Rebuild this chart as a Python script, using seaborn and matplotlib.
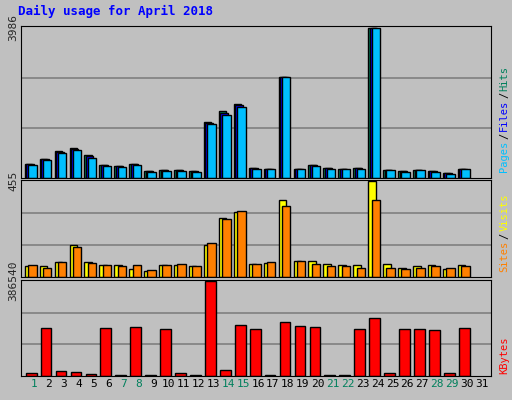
import numpy as np
import seaborn as sns
import matplotlib.pyplot as plt

days = list(range(1, 32))
weekend = [1, 7, 8, 14, 15, 21, 22, 28, 29]
hits = [380, 515, 705, 786, 597, 352, 325, 380, 190, 217, 217, 190, 1491, 1762, 1952,
        271, 244, 2684, 244, 352, 271, 244, 271, 3986, 217, 190, 217, 190, 136, 244, 0]
files = [365, 500, 690, 770, 580, 340, 310, 365, 180, 205, 205, 180, 1460, 1730, 1925,
         260, 235, 2680, 235, 340, 260, 235, 260, 3980, 210, 180, 210, 180, 125, 235, 0]
pages = [350, 470, 650, 730, 540, 320, 290, 350, 170, 190, 190, 170, 1420, 1680, 1870,
         240, 230, 2680, 230, 320, 240, 230, 240, 3980, 200, 170, 200, 170, 115, 230, 0]
visits = [50, 50, 70, 150, 70, 55, 55, 40, 30, 55, 55, 50, 150, 280, 310,
          60, 65, 365, 75, 75, 60, 55, 55, 455, 60, 45, 50, 55, 40, 55, 0]
sites = [55, 45, 70, 140, 65, 55, 50, 55, 35, 55, 60, 50, 160, 275, 315,
         60, 70, 335, 75, 60, 50, 50, 45, 365, 45, 40, 45, 50, 45, 50, 0]
kbytes = [13000, 195000, 21000, 17000, 8500, 195000, 4000, 200000, 4000, 191000, 13000, 4000,
          386540, 25000, 208000, 191000, 4000, 221000, 204000, 200000, 4000, 4000, 191000, 234000,
          13000, 191000, 191000, 187000, 13000, 195000, 0]

sns.set_style("white")
plt.rcParams['font.family'] = ['DejaVu Sans Mono']
bg = '#c0c0c0'
fig = plt.figure(figsize=(5.12, 4.0), dpi=100, facecolor=bg)
x = np.array(days[:30])

def panel(rect, ymax, series):
    ax = fig.add_axes(rect, facecolor=bg)
    for vals, off, w, col in series:
        ax.bar(x + off, vals[:30], width=w, color=col, edgecolor='black', linewidth=1, align='edge')
    ax.set_xlim(0.13, 31.6)
    ax.set_ylim(0, ymax * 1.01)
    for f in (1 / 3, 2 / 3):
        ax.axhline(ymax * f, color='#808080', lw=1.2, zorder=0)
    ax.set_yticks([ymax])
    ax.set_yticklabels([str(ymax)], rotation=90, va='center', fontsize=8)
    ax.tick_params(axis='y', length=0, pad=2)
    ax.set_xticks([])
    for s in ax.spines.values():
        s.set_color('black')
    return ax

ax1 = panel([0.041, 0.555, 0.918, 0.38], 3986,
            [(hits, -0.62, 0.5, '#00805c'), (files, -0.52, 0.5, '#0000ff'), (pages, -0.4, 0.57, '#00bfff')])
ax2 = panel([0.041, 0.3075, 0.918, 0.2425], 455,
            [(visits, -0.62, 0.5, '#ffff00'), (sites, -0.4, 0.57, '#ff8000')])
ax3 = panel([0.041, 0.06, 0.918, 0.24], 386540,
            [(kbytes, -0.55, 0.72, '#ff0000')])
ax3.set_xticks(days)
ax3.set_xticklabels([str(d) for d in days], fontsize=8)
ax3.tick_params(axis='x', length=0, pad=2)
for lab, d in zip(ax3.get_xticklabels(), days):
    lab.set_color('#00805c' if d in weekend else 'black')

fig.text(0.035, 0.962, 'Daily usage for April 2018', color='#0000ff', fontsize=9, fontweight='bold')

renderer = fig.canvas.get_renderer()

def vlabel(y, parts):
    for txt, col in parts:
        t = fig.text(0.985, y, txt, color=col, fontsize=7.5, rotation=90, va='bottom', ha='center')
        bb = t.get_window_extent(renderer)
        y += bb.height / 400 + 0.004

vlabel(0.57, [('Pages', '#00bfff'), ('/', 'black'), ('Files', '#0000ff'), ('/', 'black'), ('Hits', '#00805c')])
vlabel(0.32, [('Sites', '#ff8000'), ('/', 'black'), ('Visits', '#ffff00')])
vlabel(0.065, [('KBytes', '#ff0000')])

fig.savefig('out.png', dpi=100, facecolor=bg)
